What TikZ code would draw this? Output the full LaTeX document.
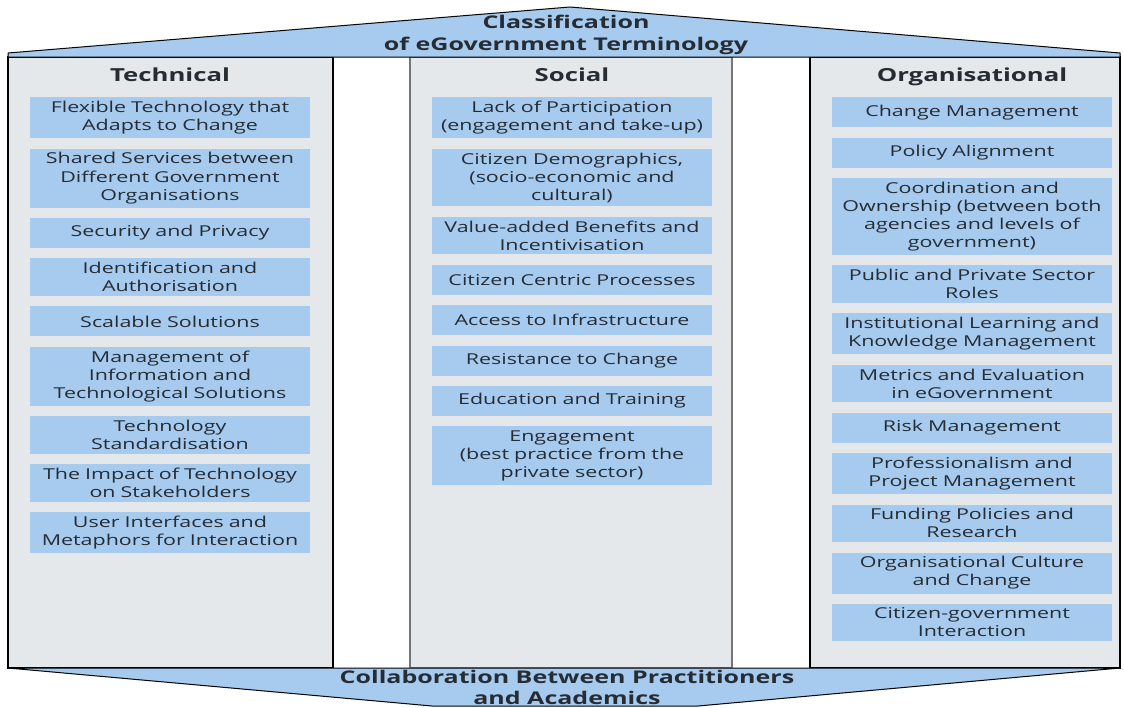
\documentclass[tikz,border=0pt]{standalone}
\usepackage{fontspec}
\setmainfont{Open Sans}[FakeStretch=1.43]
\usetikzlibrary{positioning}

\definecolor{itemblue}{RGB}{166,203,238}
\definecolor{colgray}{RGB}{229,232,235}
\definecolor{inkgray}{RGB}{38,44,52}
\definecolor{edgegray}{RGB}{118,118,118}

\begin{document}
\begin{tikzpicture}[x=1pt, y=-1pt,
  item/.style={fill=itemblue, text=inkgray, text width=274pt, align=center,
    minimum height=30pt, inner xsep=3pt, inner ysep=4pt,
    font=\fontsize{15}{18}\selectfont},
  head/.style={text=inkgray, font=\fontsize{18}{20}\selectfont\bfseries},
  pillar/.style={fill=colgray, draw=black, line width=1.2pt},
  band/.style={fill=itemblue, draw=black, line width=1pt}]
\useasboundingbox (0,0) rectangle (1124,707);

  % pillars
  \draw[pillar] (8,57) rectangle (333,668);
  \draw[pillar, draw=edgegray, line width=2.6pt] (410,57) rectangle (732,668);
  \draw[pillar] (810,57) rectangle (1120,668);

  % roof
  \draw[band] (8,57) -- (8,53) -- (570,7) -- (1120,53) -- (1120,57) -- cycle;
  \node[head, align=center, font=\fontsize{17.5}{22}\selectfont\bfseries] (roof) at (566,35)
        {Classification\\of eGovernment Terminology};

  % base
  \draw[band] (8,668) -- (1120,668) -- (698,706) -- (432,706) -- cycle;
  \node[head, align=center, font=\fontsize{17.5}{21}\selectfont\bfseries] (base) at (567,687)
        {Collaboration Between Practitioners\\and Academics};

  % technical
  \node[head, anchor=base] (tech) at (170,81) {Technical};
  \node[item, anchor=north] (t1) at (170,97) {Flexible Technology that\\Adapts to Change};
  \node[item, below=10pt of t1] (t2) {Shared Services between\\Different Government\\Organisations};
  \node[item, below=10pt of t2] (t3) {Security and Privacy};
  \node[item, below=10pt of t3] (t4) {Identification and\\Authorisation};
  \node[item, below=10pt of t4] (t5) {Scalable Solutions};
  \node[item, below=10pt of t5] (t6) {Management of\\Information and\\Technological Solutions};
  \node[item, below=10pt of t6] (t7) {Technology\\Standardisation};
  \node[item, below=10pt of t7] (t8) {The Impact of Technology\\on Stakeholders};
  \node[item, below=10pt of t8] (t9) {User Interfaces and\\Metaphors for Interaction};

  % social
  \node[head, anchor=base] (soc) at (572,81) {Social};
  \node[item, anchor=north] (s1) at (572,97) {Lack of Participation\\(engagement and take-up)};
  \node[item, below=10pt of s1] (s2) {Citizen Demographics,\\(socio-economic and\\cultural)};
  \node[item, below=10pt of s2] (s3) {Value-added Benefits and\\Incentivisation};
  \node[item, below=10pt of s3] (s4) {Citizen Centric Processes};
  \node[item, below=10pt of s4] (s5) {Access to Infrastructure};
  \node[item, below=10pt of s5] (s6) {Resistance to Change};
  \node[item, below=10pt of s6] (s7) {Education and Training};
  \node[item, below=10pt of s7] (s8) {Engagement\\(best practice from the\\private sector)};

  % organisational
  \node[head, anchor=base] (org) at (972,81) {Organisational};
  \node[item, anchor=north] (o1) at (972,97) {Change Management};
  \node[item, below=10pt of o1] (o2) {Policy Alignment};
  \node[item, below=10pt of o2] (o3) {Coordination and\\Ownership (between both\\agencies and levels of\\government)};
  \node[item, below=10pt of o3] (o4) {Public and Private Sector\\Roles};
  \node[item, below=10pt of o4] (o5) {Institutional Learning and\\Knowledge Management};
  \node[item, below=10pt of o5] (o6) {Metrics and Evaluation\\in eGovernment};
  \node[item, below=10pt of o6] (o7) {Risk Management};
  \node[item, below=10pt of o7] (o8) {Professionalism and\\Project Management};
  \node[item, below=10pt of o8] (o9) {Funding Policies and\\Research};
  \node[item, below=10pt of o9] (o10) {Organisational Culture\\and Change};
  \node[item, below=10pt of o10] (o11) {Citizen-government\\Interaction};
\end{tikzpicture}
\end{document}
